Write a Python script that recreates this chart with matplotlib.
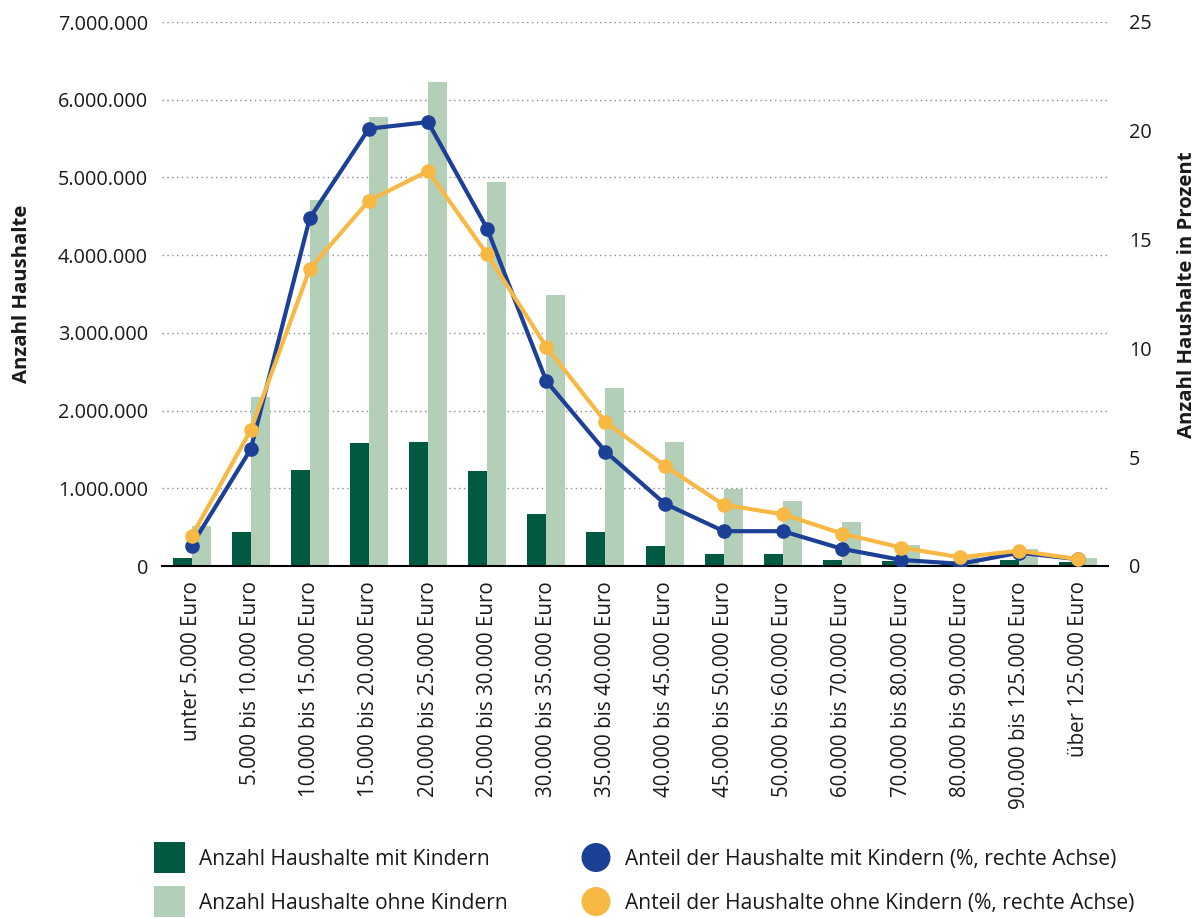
import matplotlib
matplotlib.use("Agg")
import matplotlib.pyplot as plt
import numpy as np
from matplotlib.patches import Rectangle, Ellipse

plt.rcParams['font.family'] = ['Open Sans', 'DejaVu Sans']

categories = ["unter 5.000 Euro", "5.000 bis 10.000 Euro", "10.000 bis 15.000 Euro",
              "15.000 bis 20.000 Euro", "20.000 bis 25.000 Euro", "25.000 bis 30.000 Euro",
              "30.000 bis 35.000 Euro", "35.000 bis 40.000 Euro", "40.000 bis 45.000 Euro",
              "45.000 bis 50.000 Euro", "50.000 bis 60.000 Euro", "60.000 bis 70.000 Euro",
              "70.000 bis 80.000 Euro", "80.000 bis 90.000 Euro", "90.000 bis 125.000 Euro",
              "über 125.000 Euro"]

anzahl_mit = [105000, 440000, 1235000, 1580000, 1595000, 1225000, 667000, 440000,
              260000, 155000, 155000, 77000, 64000, 20000, 77000, 50000]
anzahl_ohne = [515000, 2180000, 4710000, 5780000, 6230000, 4940000, 3486000, 2290000,
               1600000, 990000, 840000, 570000, 270000, 120000, 220000, 100000]
anteil_mit = [0.94, 5.36, 15.99, 20.1, 20.4, 15.5, 8.5, 5.26,
              2.87, 1.60, 1.60, 0.79, 0.28, 0.10, 0.61, 0.31]
anteil_ohne = [1.36, 6.24, 13.66, 16.79, 18.15, 14.32, 10.07, 6.62,
               4.61, 2.81, 2.38, 1.49, 0.85, 0.40, 0.70, 0.31]

left_ticks = [0, 1000000, 2000000, 3000000, 4000000, 5000000, 6000000, 7000000]
left_ticklabels = ["0", "1.000.000", "2.000.000", "3.000.000", "4.000.000",
                   "5.000.000", "6.000.000", "7.000.000"]
right_ticks = [0, 5, 10, 15, 20, 25]

labels_legend = ["Anzahl Haushalte mit Kindern", "Anzahl Haushalte ohne Kindern",
                 "Anteil der Haushalte mit Kindern (%, rechte Achse)",
                 "Anteil der Haushalte ohne Kindern (%, rechte Achse)"]

c_dark = "#005A41"
c_light = "#B3CFB7"
c_blue = "#1B4096"
c_orange = "#F8B944"
c_text = "#1a1a1a"

W, H = 1201, 918
fig = plt.figure(figsize=(W / 100, H / 100), dpi=100)
ax = fig.add_axes([162 / W, 1 - 566 / H, (1108 - 162) / W, (566 - 22) / H])
ax2 = ax.twinx()

x = np.arange(len(categories))
bw = 0.322
ax.bar(x - bw / 2, anzahl_mit, width=bw, color=c_dark, zorder=2)
ax.bar(x + bw / 2, anzahl_ohne, width=bw, color=c_light, zorder=2)

ax2.plot(x, anteil_mit, color=c_blue, lw=3.0, marker='o', ms=9.5, zorder=3)
ax2.plot(x, anteil_ohne, color=c_orange, lw=3.0, marker='o', ms=9.5, zorder=4)

ax.set_xlim(-0.5, len(categories) - 0.5)
ax.set_ylim(0, 7000000)
ax2.set_ylim(0, 25)

ax.set_yticks(left_ticks)
ax.set_yticklabels(left_ticklabels)
ax2.set_yticks(right_ticks)
ax2.set_yticklabels([str(t) for t in right_ticks])

ax.set_xticks(x)
ax.set_xticklabels(categories, rotation=90)

for a in (ax, ax2):
    for s in ['top', 'left', 'right', 'bottom']:
        a.spines[s].set_visible(False)
ax.spines['bottom'].set_visible(True)
ax.spines['bottom'].set_color('black')
ax.spines['bottom'].set_linewidth(1.5)
ax.spines['bottom'].set_zorder(5)

ax.tick_params(axis='y', length=0, pad=10, labelsize=14.3, colors=c_text)
ax.tick_params(axis='x', length=0, pad=11, labelsize=14.8, colors=c_text)
ax2.tick_params(axis='y', length=0, pad=15, labelsize=14.3, colors=c_text)

ax.yaxis.grid(True, linestyle=(0, (1, 2.5)), color='#8a8a8a', lw=1.0, zorder=0)
ax.set_axisbelow(True)

fig.text(22 / W, 1 - 294 / H, "Anzahl Haushalte", rotation=90, ha='center', va='center',
         fontsize=14.7, fontweight='bold', color=c_text)
fig.text(1187 / W, 1 - 295 / H, "Anzahl Haushalte in Prozent", rotation=90, ha='center',
         va='center', fontsize=14.7, fontweight='bold', color=c_text)

# Legend (drawn manually in figure pixel coordinates)
rows = [857.5, 901.5]
baselines = [865, 909]
sq = 31
for i, col in enumerate([c_dark, c_light]):
    fig.add_artist(Rectangle((154 / W, 1 - (rows[i] + sq / 2) / H), sq / W, sq / H,
                             transform=fig.transFigure, facecolor=col, edgecolor='none'))
    fig.text(199 / W, 1 - baselines[i] / H, labels_legend[i], ha='left', va='baseline',
             fontsize=15.1, color=c_text)
circ = 29
for i, col in enumerate([c_blue, c_orange]):
    fig.add_artist(Ellipse((596 / W, 1 - rows[i] / H), circ / W, circ / H,
                           transform=fig.transFigure, facecolor=col, edgecolor='none'))
    fig.text(625 / W, 1 - baselines[i] / H, labels_legend[2 + i], ha='left', va='baseline',
             fontsize=15.1, color=c_text)

fig.savefig("out.png", dpi=100)
